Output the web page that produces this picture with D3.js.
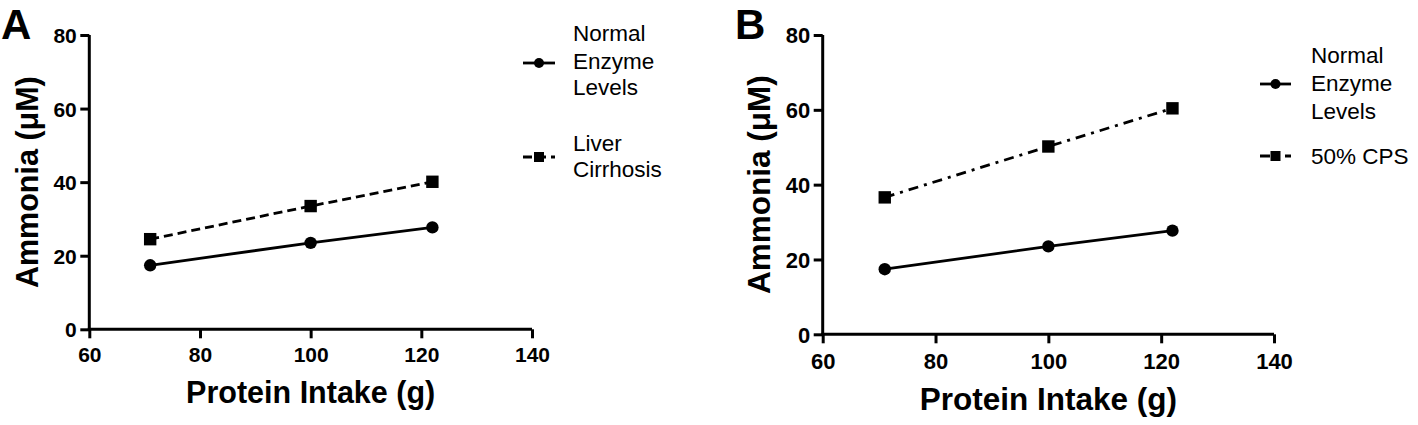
<!DOCTYPE html>
<html><head><meta charset="utf-8">
<script src="https://cdn.jsdelivr.net/npm/d3@7"></script>
<style>
html,body{margin:0;padding:0;background:#fff;}
svg{display:block;font-family:"Liberation Sans",Arial,sans-serif;}
</style></head>
<body>
<svg id="chart" width="1418" height="425"></svg>
<script>
const proteinIntake = [71, 100, 122];
const normalEnzyme = [17.4, 23.5, 27.7];
const liverCirrhosis = [24.5, 33.5, 40.1];
const cps50 = [36.6, 50.2, 60.4];
const xTicks = [60, 80, 100, 120, 140];
const yTicks = [0, 20, 40, 60, 80];

const svg = d3.select("#chart");

const panels = [
  {letter:"A", lx:1, ly:38.5, x0:89.3, x1:532, y0:329.3, y1:35, tickFont:21, xLabDy:33,
   titleFont:30.5, xTitleY:403, yTitleX:37.5,
   series:[{name:["Normal","Enzyme","Levels"], vals:normalEnzyme, marker:"circle", dash:null},
           {name:["Liver","Cirrhosis"], vals:liverCirrhosis, marker:"square", dash:"9,5"}],
   legend:{lineX0:523, lineX1:555, textX:573, items:[{y:63, base:[41,68.5,95]},{y:157, base:[150.5,177]}]}},
  {letter:"B", lx:735, ly:38.5, x0:822.7, x1:1274, y0:334.3, y1:35, tickFont:22, xLabDy:35,
   titleFont:31.5, xTitleY:410, yTitleX:770,
   series:[{name:["Normal","Enzyme","Levels"], vals:normalEnzyme, marker:"circle", dash:null},
           {name:["50% CPS"], vals:cps50, marker:"square", dash:"10,6,3,6"}],
   legend:{lineX0:1260, lineX1:1291, textX:1311, items:[{y:84, base:[63,91,119]},{y:156, base:[164]}]}}
];

panels.forEach(p => {
  const g = svg.append("g");
  const x = d3.scaleLinear().domain([60,140]).range([p.x0, p.x1]);
  const y = d3.scaleLinear().domain([0,80]).range([p.y0, p.y1]);

  g.append("text").attr("x", p.lx).attr("y", p.ly).style("font-size", "42px").attr("font-weight", "bold").text(p.letter);

  const xa = g.append("g").attr("transform", `translate(0,${p.y0})`)
    .call(d3.axisBottom(x).tickValues(xTicks).tickSize(9).tickSizeOuter(0).tickFormat(d3.format("d")));
  const ya = g.append("g").attr("transform", `translate(${p.x0},0)`)
    .call(d3.axisLeft(y).tickValues(yTicks).tickSize(9).tickSizeOuter(0).tickFormat(d3.format("d")));
  [xa, ya].forEach(a => {
    a.attr("font-size", null).attr("font-family", null);
    a.select(".domain").attr("stroke", "#000").attr("stroke-width", 3);
    a.selectAll(".tick line").attr("stroke", "#000").attr("stroke-width", 3);
    a.selectAll(".tick text")
      .style("font-size", p.tickFont + "px")
      .style("font-family", "'Liberation Sans', Arial, sans-serif")
      .style("font-weight", "bold").attr("fill", "#000");
  });
  xa.select(".domain").attr("d", `M${p.x0 - 1.5},0H${p.x1}`);
  ya.select(".domain").attr("d", `M0,${p.y0 + 1.5}V${p.y1}`);
  xa.selectAll(".tick text").attr("dy", null).attr("y", p.xLabDy);
  ya.selectAll(".tick text").attr("x", -12.5).attr("dy", "0.36em");

  g.append("text").attr("x", (p.x0 + p.x1) / 2).attr("y", p.xTitleY).attr("text-anchor", "middle")
    .style("font-size", p.titleFont + "px").attr("font-weight", "bold").text("Protein Intake (g)");
  g.append("text").attr("transform", `translate(${p.yTitleX},${(p.y0 + p.y1) / 2}) rotate(-90)`)
    .attr("text-anchor", "middle").style("font-size", p.titleFont + "px").attr("font-weight", "bold").text("Ammonia (μM)");

  const line = d3.line().x((d, i) => x(proteinIntake[i])).y(d => y(d));
  p.series.forEach((s, si) => {
    g.append("path").datum(s.vals).attr("d", line).attr("fill", "none").attr("stroke", "#000")
      .attr("stroke-width", 2.8).attr("stroke-dasharray", s.dash);
    const drawMarker = (sel, cx, cy) => {
      if (s.marker === "circle") sel.append("circle").attr("cx", cx).attr("cy", cy).attr("r", 6.2).attr("fill", "#000");
      else sel.append("rect").attr("x", cx - 6.2).attr("y", cy - 6.2).attr("width", 12.4).attr("height", 12.4).attr("fill", "#000");
    };
    s.vals.forEach((v, i) => drawMarker(g, x(proteinIntake[i]), y(v)));

    const L = p.legend, it = L.items[si];
    g.append("line").attr("x1", L.lineX0).attr("x2", L.lineX1).attr("y1", it.y).attr("y2", it.y)
      .attr("stroke", "#000").attr("stroke-width", 2.8).attr("stroke-dasharray", s.dash);
    const lm = (L.lineX0 + L.lineX1) / 2;
    if (s.marker === "circle") g.append("circle").attr("cx", lm).attr("cy", it.y).attr("r", 5).attr("fill", "#000");
    else g.append("rect").attr("x", lm - 5).attr("y", it.y - 5).attr("width", 10).attr("height", 10).attr("fill", "#000");
    s.name.forEach((t, k) => {
      g.append("text").attr("x", L.textX).attr("y", it.base[k]).style("font-size", "22.5px").attr("fill", "#000").text(t);
    });
  });
});
</script>
</body></html>
